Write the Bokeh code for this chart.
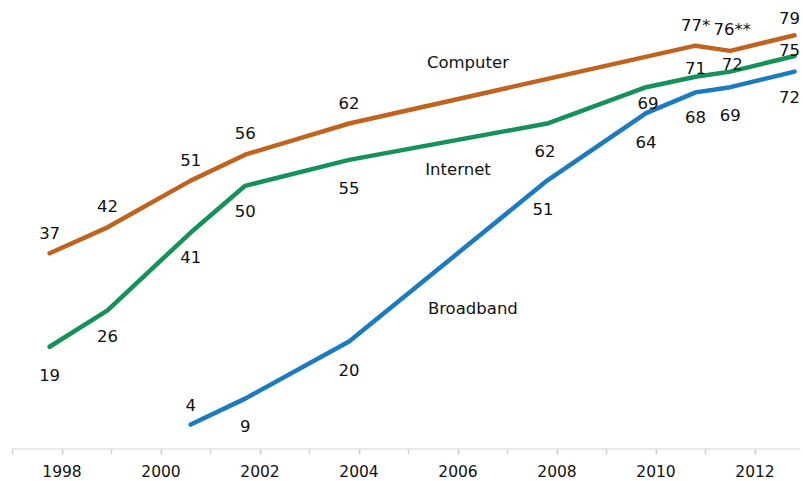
from bokeh.plotting import figure
from bokeh.models import ColumnDataSource, FixedTicker, LabelSet, Label
from bokeh.core.properties import value
from bokeh.embed import file_html
from bokeh.resources import INLINE

# ---- data ----
computer_x = [1997.75, 1998.92, 2000.6, 2001.7, 2003.8, 2010.8, 2011.5, 2012.8]
computer_y = [37, 42, 51, 56, 62, 77, 76, 79]
computer_lbl = ["37", "42", "51", "56", "62", "77*", "76**", "79"]

internet_x = [1997.75, 1998.92, 2000.6, 2001.7, 2003.8, 2007.8, 2009.8, 2010.8, 2011.5, 2012.8]
internet_y = [19, 26, 41, 50, 55, 62, 69, 71, 72, 75]
internet_lbl = [str(v) for v in internet_y]

broadband_x = [2000.6, 2001.7, 2003.8, 2007.8, 2009.8, 2010.8, 2011.5, 2012.8]
broadband_y = [4, 9, 20, 51, 64, 68, 69, 72]
broadband_lbl = [str(v) for v in broadband_y]

year_ticks = [1998, 2000, 2002, 2004, 2006, 2008, 2010, 2012]

series_names = ["Computer", "Internet", "Broadband"]
name_x = [2006.2, 2006.0, 2006.3]
name_y = [73.8, 53.1, 26.3]

# ---- styles ----
FONT = "DejaVu Sans"
C_ORANGE = "#C0631F"
C_GREEN = "#17915A"
C_BLUE = "#1B7BBE"
PX_PER_YEAR = 49.5

# label offsets in screen px (positive = up)
computer_dy = [20, 21, 21, 22, 21, 20, 21, 17]
computer_dx = [0, 0, 0, 0, 0, 0, 2, -5]
internet_dy = [-28, -26, -24, -25, -28, -27, -16, 9, 8, 6]
internet_dx = [0, 0, 0, 0, 0, -2, 2, 0, 2, -5]
broadband_dy = [20, -27, -28, -28, -29, -25, -28, -25]
broadband_dx = [0, 0, 0, -4, 0, 0, 0, -5]

x_start = 1997.0 - 12 / PX_PER_YEAR
x_end = x_start + 803 / PX_PER_YEAR

p = figure(frame_width=803, frame_height=449, x_range=(x_start, x_end), y_range=(-0.8, 85.7),
           output_backend="svg", toolbar_location=None,
           min_border_left=0, min_border_right=0, min_border_top=0, min_border_bottom=0)
p.outline_line_color = None
p.xgrid.visible = False
p.ygrid.visible = False
p.yaxis.visible = False
p.background_fill_color = "white"
p.border_fill_color = "white"

p.line(computer_x, computer_y, line_color=C_ORANGE, line_width=4.5, line_join="round", line_cap="round")
p.line(internet_x, internet_y, line_color=C_GREEN, line_width=4.5, line_join="round", line_cap="round")
p.line(broadband_x, broadband_y, line_color=C_BLUE, line_width=4.5, line_join="round", line_cap="round")

# axis line drawn only across 1997 .. 2012.92
p.segment(x0=[1997.0], y0=[-0.8], x1=[2012.92], y1=[-0.8], line_color="#D3D3D3", line_width=2)

def add_labels(xs, ys, lbls, dxs, dys):
    src = ColumnDataSource(dict(x=xs, y=ys, t=lbls, dx=dxs, dy=dys))
    ls = LabelSet(x="x", y="y", text="t", x_offset="dx", y_offset="dy", source=src,
                  text_font=value(FONT), text_font_size="16.5px", text_color="#111111",
                  text_align="center", text_baseline="middle")
    p.add_layout(ls)

add_labels(computer_x, computer_y, computer_lbl, computer_dx, computer_dy)
add_labels(internet_x, internet_y, internet_lbl, internet_dx, internet_dy)
add_labels(broadband_x, broadband_y, broadband_lbl, broadband_dx, broadband_dy)

for n, nx, ny in zip(series_names, name_x, name_y):
    p.add_layout(Label(x=nx, y=ny, text=n, text_font=FONT, text_font_size="16.5px",
                       text_color="#111111", text_align="center", text_baseline="middle"))

ax = p.xaxis[0]
ax.ticker = FixedTicker(ticks=year_ticks, minor_ticks=list(range(1997, 2013)))
ax.axis_line_color = None
ax.major_tick_line_color = "#D3D3D3"
ax.minor_tick_line_color = "#D3D3D3"
ax.major_tick_line_width = 1.5
ax.minor_tick_line_width = 1.5
ax.major_tick_out = 5
ax.major_tick_in = 0
ax.minor_tick_out = 5
ax.minor_tick_in = 0
ax.major_label_text_font = FONT
ax.major_label_text_font_size = "15.5px"
ax.major_label_text_color = "#111111"
ax.major_label_standoff = 10

open("out.html", "w").write(file_html(p, INLINE))
